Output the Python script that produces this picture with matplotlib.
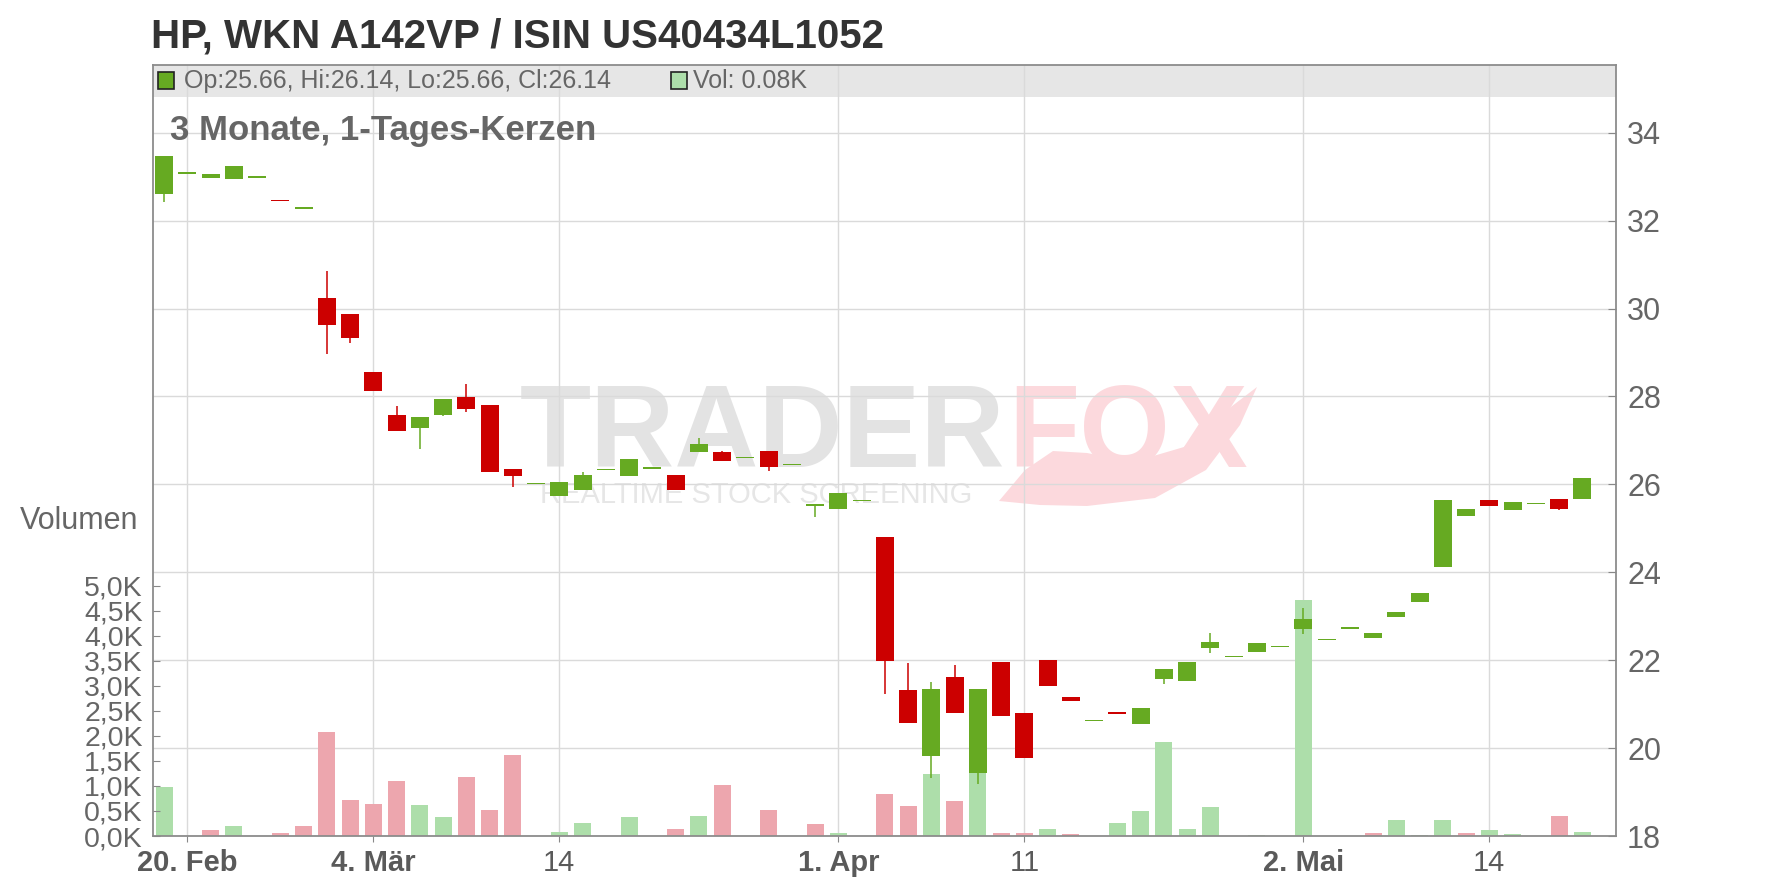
import matplotlib
matplotlib.use('Agg')
import matplotlib.pyplot as plt
import numpy as np
from matplotlib.patches import Rectangle, PathPatch
from matplotlib.path import Path
from matplotlib.transforms import Affine2D, blended_transform_factory

plt.rcParams['font.family'] = ['Liberation Sans', 'DejaVu Sans']

# daily candles (index = trading day)
opens = [32.61, 33.06, 32.97, 32.95, 32.97, 32.45, 32.26, 30.24, 29.87, 28.56,
         27.58, 27.29, 27.58, 27.99, 27.80, 26.35, 26.00, 25.74, 25.88, 26.32,
         26.20, 26.36, 26.21, 26.74, 26.74, 26.59, 26.76, 26.43, 25.51, 25.45,
         25.61, 24.80, 21.32, 19.83, 21.62, 19.44, 21.96, 20.80, 22.00, 21.16,
         20.61, 20.83, 20.55, 21.58, 21.53, 22.28, 22.07, 22.19, 22.29, 22.72,
         22.45, 22.72, 22.51, 22.99, 23.33, 24.13, 25.29, 25.64, 25.42, 25.55,
         25.67, 25.66]
closes = [33.47, 33.07, 33.06, 33.24, 32.98, 32.44, 32.31, 29.63, 29.34, 28.13,
          27.22, 27.53, 27.94, 27.71, 26.27, 26.20, 26.01, 26.05, 26.21, 26.33,
          26.58, 26.37, 25.88, 26.92, 26.54, 26.60, 26.40, 26.44, 25.55, 25.80,
          25.62, 21.97, 20.58, 21.34, 20.80, 21.34, 20.74, 19.77, 21.42, 21.08,
          20.62, 20.78, 20.91, 21.80, 21.96, 22.41, 22.08, 22.39, 22.30, 22.94,
          22.46, 22.73, 22.62, 23.10, 23.53, 25.64, 25.44, 25.51, 25.60, 25.56,
          25.45, 26.14]
highs = [33.47, 33.07, 33.06, 33.24, 32.98, 32.45, 32.31, 30.85, 29.87, 28.56,
         27.78, 27.53, 27.94, 28.28, 27.80, 26.35, 26.01, 26.05, 26.28, 26.33,
         26.58, 26.37, 26.21, 27.05, 26.77, 26.60, 26.76, 26.44, 25.55, 25.80,
         25.62, 24.80, 21.94, 21.50, 21.89, 21.34, 21.96, 20.80, 22.00, 21.16,
         20.62, 20.83, 20.91, 21.80, 21.96, 22.62, 22.08, 22.39, 22.30, 23.19,
         22.46, 22.73, 22.62, 23.10, 23.53, 25.64, 25.44, 25.64, 25.60, 25.56,
         25.67, 26.14]
lows = [32.43, 33.06, 32.97, 32.95, 32.97, 32.44, 32.26, 28.97, 29.22, 28.13,
        27.22, 26.81, 27.55, 27.65, 26.27, 25.95, 26.00, 25.74, 25.88, 26.32,
        26.20, 26.36, 25.88, 26.74, 26.54, 26.59, 26.31, 26.43, 25.26, 25.45,
        25.61, 21.24, 20.58, 19.33, 20.80, 19.19, 20.74, 19.77, 21.42, 21.08,
        20.61, 20.78, 20.55, 21.46, 21.53, 22.17, 22.07, 22.19, 22.29, 22.60,
        22.45, 22.72, 22.51, 22.99, 23.33, 24.13, 25.29, 25.51, 25.42, 25.55,
        25.42, 25.66]
volumes = [980, 0, 120, 200, 0, 60, 200, 2080, 720, 640,
           1100, 620, 380, 1180, 520, 1620, 0, 80, 260, 0,
           380, 0, 140, 400, 1020, 0, 520, 0, 240, 60,
           0, 840, 600, 1240, 700, 1500, 60, 60, 140, 40,
           0, 260, 500, 1880, 140, 580, 0, 20, 0, 4710,
           0, 0, 60, 320, 20, 320, 60, 120, 40, 0,
           400, 80]

tick_pos = [1, 9, 17, 29, 37, 49, 57]
tick_labels = ['20. Feb', '4. Mär', '14', '1. Apr', '11', '2. Mai', '14']
month_ticks = ['20. Feb', '4. Mär', '1. Apr', '2. Mai']
price_ticks = [18, 20, 22, 24, 26, 28, 30, 32, 34]
vol_ticks = [0, 500, 1000, 1500, 2000, 2500, 3000, 3500, 4000, 4500, 5000]

GREEN = '#66aa22'
RED = '#cc0000'
VGREEN = '#addeaa'
VRED = '#eda6ae'
GRID = '#dadada'
TXT = '#666666'

W, H = 1776, 888
fig = plt.figure(figsize=(W / 100, H / 100), dpi=100)
ax = fig.add_axes([152.5 / W, 52 / H, (1616 - 152.5) / W, 771 / H])
axv = ax.twinx()

x = np.arange(len(opens))
o = np.array(opens)
c = np.array(closes)
up = c >= o

ax.set_xlim(-0.5, 62.45)
ax.set_ylim(18, 35.54)
vmax = 15395

# volume bars share the price axes, scaled to their own range
vol_tr = blended_transform_factory(ax.transData,
                                   Affine2D().scale(1, 1 / vmax) + ax.transAxes)
prev = np.concatenate([[c[0]], c[:-1]])
vcol = [VGREEN if c[i] >= prev[i] else VRED for i in range(len(c))]
ax.bar(x, volumes, width=0.73, color=vcol, transform=vol_tr, zorder=1)

# candles
body_lo = np.minimum(o, c)
body_h = np.maximum(np.abs(c - o), 0.035)
ccol = [GREEN if u else RED for u in up]
ax.vlines(x, lows, highs, colors=ccol, linewidth=1.1, zorder=3)
ax.bar(x, body_h, bottom=body_lo, width=0.775, color=ccol, zorder=4)

# grid & axes styling
ax.set_axisbelow(True)
ax.grid(True, color=GRID, linewidth=1.0)
ax.set_xticks(tick_pos)
ax.set_xticklabels(tick_labels)
for lab in ax.get_xticklabels():
    if lab.get_text() in month_ticks:
        lab.set_fontweight('bold')
ax.tick_params(axis='x', direction='out', length=4, pad=5, labelsize=21,
               labelcolor='#5a5a5a', color='#888888')
ax.yaxis.tick_right()
ax.yaxis.set_label_position('right')
ax.set_yticks(price_ticks)
ax.tick_params(axis='y', direction='in', length=6, pad=8, labelsize=22,
               labelcolor=TXT, color='#888888')
for s in ax.spines.values():
    s.set_color('#8c8c8c')
    s.set_linewidth(1.3)

# volume axis labels on the left
axv.yaxis.tick_left()
axv.set_ylim(0, vmax)
axv.set_yticks(vol_ticks)
axv.set_yticklabels([f"{v / 1000:.1f}K".replace('.', ',') for v in vol_ticks])
axv.tick_params(axis='y', direction='in', length=5, pad=7, labelsize=20.5,
                labelcolor=TXT, color='#888888')
for s in axv.spines.values():
    s.set_visible(False)

# header bar with legend text
ax.add_patch(Rectangle((0, (836 - 97) / 771), 1, 97 / 771, transform=ax.transAxes,
                       facecolor='#e6e6e6', edgecolor='none', zorder=0.3))
fig.add_artist(Rectangle((158 / W, 1 - 89 / H), 16 / W, 17 / H, transform=fig.transFigure,
                         facecolor=GREEN, edgecolor='#222222', linewidth=1.2))
fig.add_artist(Rectangle((671 / W, 1 - 89 / H), 16 / W, 17 / H, transform=fig.transFigure,
                         facecolor=VGREEN, edgecolor='#222222', linewidth=1.2))
hdr = f"Op:{opens[-1]:.2f}, Hi:{highs[-1]:.2f}, Lo:{lows[-1]:.2f}, Cl:{closes[-1]:.2f}"
fig.text(184 / W, 1 - 81 / H, hdr, fontsize=18, color=TXT, va='center')
fig.text(693 / W, 1 - 81 / H, f"Vol: {volumes[-1] / 1000:.2f}K", fontsize=18,
         color=TXT, va='center')

# watermark
ax.text(1005 / W, 1 - 467 / H, 'TRADER', transform=fig.transFigure, fontsize=84,
        fontweight='bold', color='#e3e3e3', ha='right', va='baseline', zorder=0.2)
ax.text(1008 / W, 1 - 467 / H, 'FOX', transform=fig.transFigure, fontsize=84,
        fontweight='bold', color='#fcd9dd', ha='left', va='baseline', zorder=0.2)
ax.text(540 / W, 1 - 503 / H, 'REALTIME STOCK SCREENING', transform=fig.transFigure,
        fontsize=21, color='#e6e6e6', ha='left', va='baseline', zorder=0.2)
tail = [(999, 501), (1040, 505), (1087, 506), (1155, 498), (1206, 470), (1240, 425),
        (1257, 387), (1223, 413), (1184, 447), (1133, 462), (1087, 453), (1053, 451),
        (1025, 470), (999, 501)]
tail_path = Path([(px / W, 1 - py / H) for px, py in tail])
ax.add_patch(PathPatch(tail_path, transform=fig.transFigure, facecolor='#fcd9dd',
                       edgecolor='none', zorder=0.2))

# titles
fig.text(151 / W, 1 - 47 / H, 'HP, WKN A142VP / ISIN US40434L1052', fontsize=29,
         fontweight='bold', color='#333333', va='baseline')
fig.text(170 / W, 1 - 140 / H, '3 Monate, 1-Tages-Kerzen', fontsize=25,
         fontweight='bold', color=TXT, va='baseline')
fig.text(20 / W, 1 - 521 / H, 'Volumen', fontsize=22, color=TXT, va='center')

fig.savefig('out.png', dpi=100)
